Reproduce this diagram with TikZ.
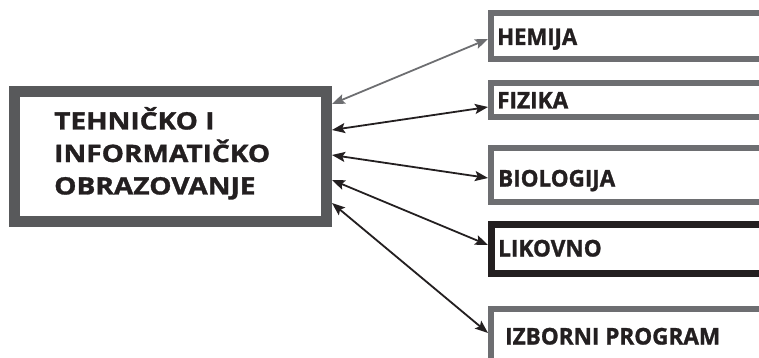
\documentclass[tikz,border=0pt]{standalone}
\usepackage{fontspec}
\usepackage{graphicx}
\setmainfont{Open Sans}[BoldFeatures={FakeBold=1.2}]
\usetikzlibrary{arrows.meta}
\definecolor{frame}{HTML}{58595B}
\definecolor{boxgray}{HTML}{6D6E71}
\definecolor{ink}{HTML}{231F20}
% set #2 and stretch it sideways to the width #1 (in pt), height unchanged
\newsavebox\fitbox
\newdimen\fitdim
\newcommand\fitwidth[2]{%
  \sbox\fitbox{#2}\fitdim=\wd\fitbox
  \pgfmathsetmacro\fitfac{#1/\fitdim}%
  \scalebox{\fitfac}[1]{\usebox\fitbox}}
\begin{document}
\begin{tikzpicture}[x=1pt,y=-1pt,
  mainbox/.style={draw=frame,line width=11pt,fill=white,minimum width=312pt,minimum height=129.5pt,inner sep=0pt},
  subjbox/.style={draw=boxgray,line width=6pt,fill=white,anchor=west,minimum width=320pt,inner sep=0pt},
  darkbox/.style={subjbox,draw=ink,line width=6.5pt},
  subjtext/.style={anchor=base west,inner sep=0pt,text=ink,font=\fontsize{23}{28}\selectfont\bfseries},
  arr/.style={draw=ink,line width=1.8pt,{Stealth[length=13pt,width=10pt,inset=2.5pt]}-{Stealth[length=13pt,width=10pt,inset=2.5pt]}},
  grayarr/.style={arr,draw=boxgray,color=boxgray}]
  \useasboundingbox (0,0) rectangle (759,358);
  \clip (0,0) rectangle (759,358);

  % central subject
  \node[mainbox] (main) at (170.5,156.75) {};
  \node[anchor=base west,inner sep=0pt,text=ink] (title) at (54,129.5)
    {\fontsize{24}{32.5}\selectfont\bfseries
     \fitwidth{216}{\begin{tabular}[t]{@{}l@{}}TEHNIČKO I\\INFORMATIČKO\\OBRAZOVANJE\end{tabular}}};

  % related subjects (boxes run past the right edge)
  \node[subjbox,minimum height=46pt] (hemija) at (488,36) {};
  \node[subjbox,minimum height=34pt] (fizika) at (488,100) {};
  \node[subjbox,minimum height=54pt] (bio) at (488,175) {};
  \node[darkbox,minimum height=49pt] (likovno) at (488,249) {};
  \node[subjbox,minimum height=90pt] (izborni) at (488,354) {};

  \node[subjtext] (t1) at (497,45) {\fitwidth{80}{HEMIJA}};
  \node[subjtext] (t2) at (497,108.5) {\fitwidth{71}{FIZIKA}};
  \node[subjtext] (t3) at (498,186.5) {\fitwidth{117}{BIOLOGIJA}};
  \node[subjtext] (t4) at (498,256.5) {\fitwidth{103.5}{LIKOVNO}};
  \node[subjtext] (t5) at (505,344.5) {\fitwidth{215}{IZBORNI PROGRAM}};

  % connections
  \draw[grayarr] (main.east |- 0,104) -- (hemija.west |- 0,39);
  \draw[arr] (main.east |- 0,130) -- (fizika.west |- 0,107);
  \draw[arr] (main.east |- 0,155) -- (bio.west |- 0,178);
  \draw[arr] (main.east |- 0,180) -- (likovno.west |- 0,245);
  \draw[arr] (main.east |- 0,203) -- (izborni.west |- 0,333);
\end{tikzpicture}
\end{document}
